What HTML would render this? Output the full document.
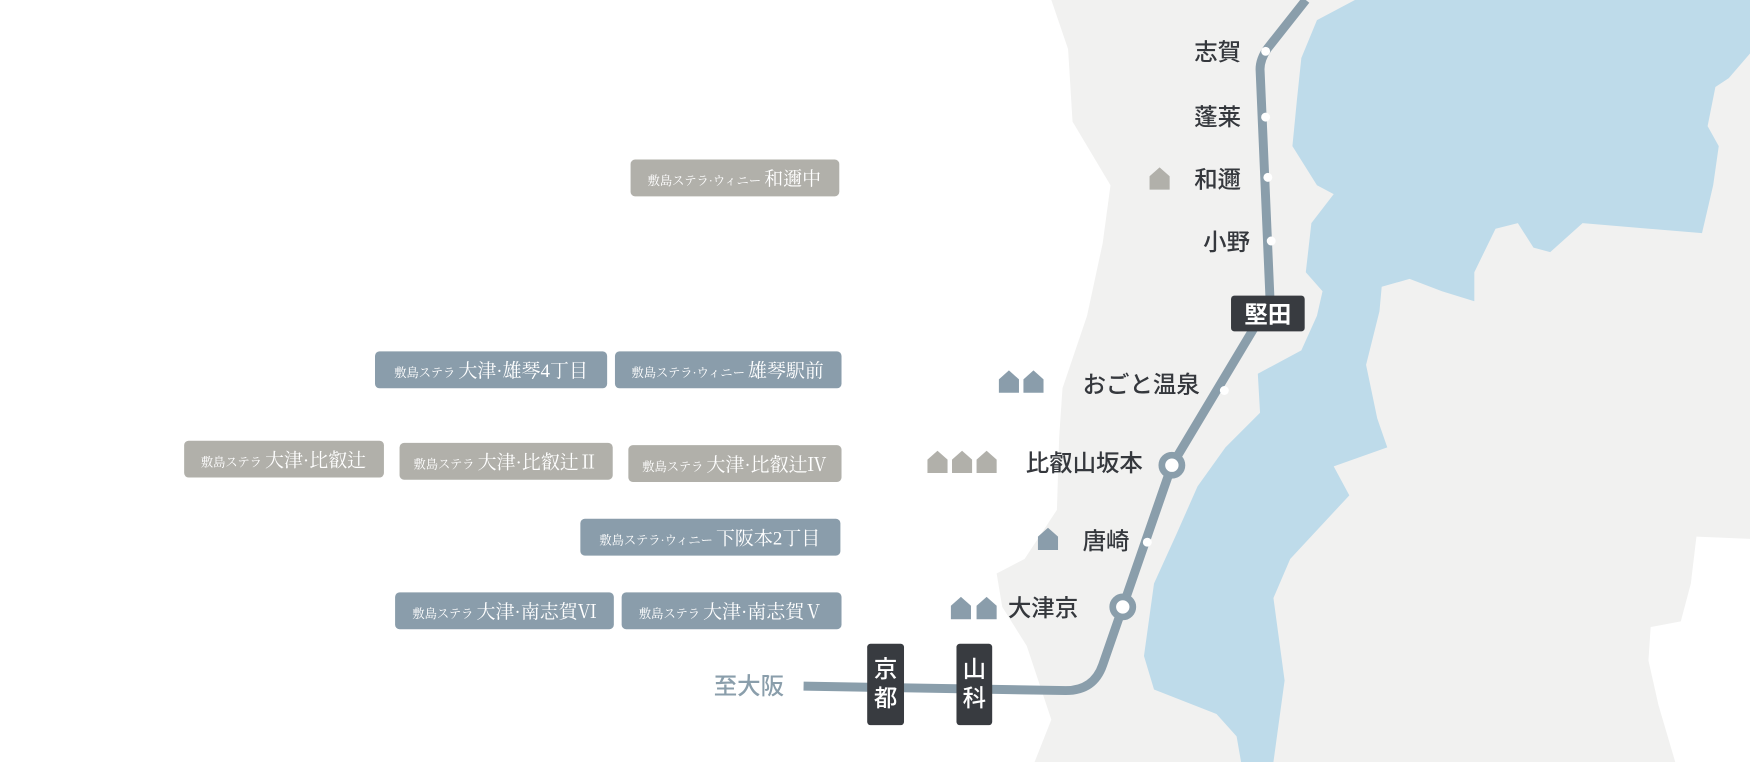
<!DOCTYPE html>
<html><head><meta charset="utf-8"><style>
html,body{margin:0;padding:0;background:#fff;}
svg{display:block;}
.st{font-family:"Liberation Sans","Noto Sans CJK JP",sans-serif;font-size:21px;font-weight:500;fill:#35383d;}
.tg{font-family:"Liberation Serif","Noto Serif CJK JP",serif;fill:#fff;}
</style></head><body>
<svg width="1750" height="762" viewBox="0 0 1568 683" preserveAspectRatio="none" xmlns="http://www.w3.org/2000/svg">
<rect width="1568" height="683" fill="#fff"/>
<path d="M942,0 L1568,0 L1568,683 L927,683 L942,645 L920,579 L898,544 L893,514 L918,501 L947,457 L949,392 L952,348 L974,283 L988,218 L995,166 L961,109 L957,44 Z" fill="#f1f1f0"/>
<path d="M1568,483 L1520,481 L1515,523 L1506,557 L1479,562 L1477,592 L1486,632 L1501,683 L1568,683 Z" fill="#fff"/>
<path d="M1214,0 L1568,0 L1568,48 L1549,70 L1537,78 L1530,113 L1540,131 L1535,166 L1525,209 L1418,200 L1389,226 L1374,222 L1360,200 L1340,205 L1321,244 L1321,270 L1292,261 L1263,250 L1238,257 L1236,279 L1224,327 L1234,375 L1243,401 L1195,418 L1209,444 L1156,501 L1141,536 L1151,610 L1141,683 L1112,683 L1108,660 L1090,640 L1034,618 L1025,588 L1034,523 L1054,479 L1073,436 L1098,401 L1129,370 L1127,335 L1166,314 L1180,283 L1185,261 L1170,244 L1175,200 L1195,174 L1180,166 L1158,131 L1162,90 L1166,52 L1180,18 Z" fill="#bedbea"/>
<path d="M1170,0 L1136,43 Q1129,53 1129,62 L1138,270 L1050,417 L1006,544 L988,596 Q980,619 955,619 L720,615" fill="none" stroke="#8a9eab" stroke-width="8" stroke-linejoin="round"/>
<g fill="#fff">
<circle cx="1134" cy="46" r="4"/><circle cx="1134" cy="105" r="4"/><circle cx="1136" cy="159" r="4"/><circle cx="1139" cy="216" r="4"/><circle cx="1097" cy="350" r="4"/><circle cx="1028" cy="486" r="4"/>
</g>
<circle cx="1050" cy="417" r="9" fill="#fff" stroke="#8a9eab" stroke-width="6"/>
<circle cx="1006" cy="544" r="9" fill="#fff" stroke="#8a9eab" stroke-width="6"/>
<rect x="1103" y="265" width="66" height="32" rx="3" fill="#383b40"/>
<text x="1136" y="289" text-anchor="middle" class="st" style="fill:#fff;font-weight:bold;font-size:21px">堅田</text>
<rect x="777" y="577" width="33" height="73" rx="3" fill="#383b40"/>
<text x="793.5" y="607" text-anchor="middle" class="st" style="fill:#fff;font-size:21px">京</text>
<text x="793.5" y="633" text-anchor="middle" class="st" style="fill:#fff;font-size:21px">都</text>
<rect x="857" y="577" width="32" height="73" rx="3" fill="#383b40"/>
<text x="873" y="607" text-anchor="middle" class="st" style="fill:#fff;font-size:21px">山</text>
<text x="873" y="633" text-anchor="middle" class="st" style="fill:#fff;font-size:21px">科</text>
<text x="671" y="622" text-anchor="middle" class="st" style="fill:#8a9eab;font-size:21px">至大阪</text>
<text x="1112" y="54" text-anchor="end" class="st">志賀</text>
<text x="1112" y="112" text-anchor="end" class="st">蓬莱</text>
<text x="1112" y="168" text-anchor="end" class="st">和邇</text>
<text x="1120" y="224" text-anchor="end" class="st">小野</text>
<text x="1075" y="352" text-anchor="end" class="st">おごと温泉</text>
<text x="1024" y="422" text-anchor="end" class="st">比叡山坂本</text>
<text x="1012" y="492" text-anchor="end" class="st">唐崎</text>
<text x="966" y="552" text-anchor="end" class="st">大津京</text>
<defs>
<path id="h" d="M0,8 L9,0 L18,8 L18,20 L0,20 Z"/>
</defs>
<use href="#h" x="1030" y="150" fill="#b1b0aa"/>
<use href="#h" x="895" y="332" fill="#8a9dab"/><use href="#h" x="917" y="332" fill="#8a9dab"/>
<use href="#h" x="831" y="404" fill="#b1b0aa"/><use href="#h" x="853" y="404" fill="#b1b0aa"/><use href="#h" x="875" y="404" fill="#b1b0aa"/>
<use href="#h" x="930" y="473" fill="#8a9dab"/>
<use href="#h" x="852" y="535" fill="#8a9dab"/><use href="#h" x="875" y="535" fill="#8a9dab"/>
<g>
<rect x="565" y="143" width="187" height="33" rx="4" fill="#b1b0aa"/>
<text x="658" y="166" text-anchor="middle" class="tg"><tspan font-size="11">敷島ステラ·ウィニー </tspan><tspan font-size="17">和邇中</tspan></text>
<rect x="336" y="315" width="208" height="33" rx="4" fill="#8a9dab"/>
<text x="440" y="338" text-anchor="middle" class="tg"><tspan font-size="11">敷島ステラ </tspan><tspan font-size="17">大津·雄琴4丁目</tspan></text>
<rect x="551" y="315" width="203" height="33" rx="4" fill="#8a9dab"/>
<text x="652" y="338" text-anchor="middle" class="tg"><tspan font-size="11">敷島ステラ·ウィニー </tspan><tspan font-size="17">雄琴駅前</tspan></text>
<rect x="165" y="395" width="179" height="33" rx="4" fill="#b1b0aa"/>
<text x="254" y="418" text-anchor="middle" class="tg"><tspan font-size="11">敷島ステラ </tspan><tspan font-size="17">大津·比叡辻</tspan></text>
<rect x="358" y="397" width="191" height="33" rx="4" fill="#b1b0aa"/>
<text x="453" y="420" text-anchor="middle" class="tg"><tspan font-size="11">敷島ステラ </tspan><tspan font-size="17">大津·比叡辻Ⅱ</tspan></text>
<rect x="563" y="399" width="191" height="33" rx="4" fill="#b1b0aa"/>
<text x="658" y="422" text-anchor="middle" class="tg"><tspan font-size="11">敷島ステラ </tspan><tspan font-size="17">大津·比叡辻Ⅳ</tspan></text>
<rect x="520" y="465" width="233" height="33" rx="4" fill="#8a9dab"/>
<text x="636" y="488" text-anchor="middle" class="tg"><tspan font-size="11">敷島ステラ·ウィニー </tspan><tspan font-size="17">下阪本2丁目</tspan></text>
<rect x="354" y="531" width="196" height="33" rx="4" fill="#8a9dab"/>
<text x="452" y="554" text-anchor="middle" class="tg"><tspan font-size="11">敷島ステラ </tspan><tspan font-size="17">大津·南志賀Ⅵ</tspan></text>
<rect x="557" y="531" width="197" height="33" rx="4" fill="#8a9dab"/>
<text x="655" y="554" text-anchor="middle" class="tg"><tspan font-size="11">敷島ステラ </tspan><tspan font-size="17">大津·南志賀Ⅴ</tspan></text>
</g>
</svg>
</body></html>
